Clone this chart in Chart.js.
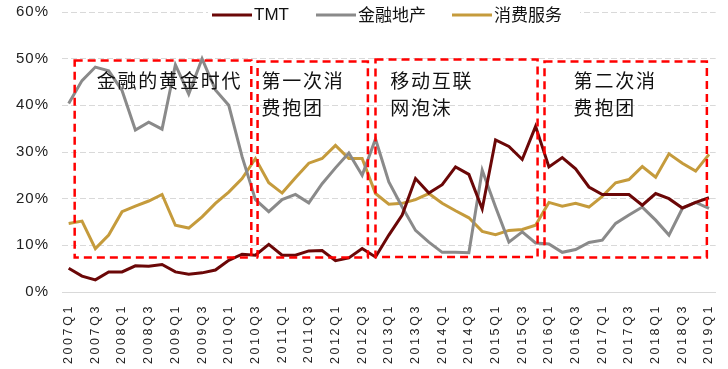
<!DOCTYPE html>
<html>
<head>
<meta charset="utf-8">
<script src="https://cdn.jsdelivr.net/npm/chart.js@4/dist/chart.umd.min.js"></script>
<style>
  html, body { margin: 0; padding: 0; background: #fff; }
  #wrap { width: 728px; height: 369px; }
</style>
</head>
<body>
<div id="wrap"><canvas id="lineChart"></canvas></div>
<script>
// quarters 2007Q1 .. 2019Q1
const quarters = [];
for (let y = 2007; y <= 2019; y++) {
    for (let q = 1; q <= 4; q++) {
        if (y === 2019 && q > 1) break;
        quarters.push(y + 'Q' + q);
    }
}

const tmt = [5.1, 3.4, 2.6, 4.3, 4.3, 5.6, 5.5, 5.9, 4.3, 3.8, 4.1, 4.7, 6.8, 8.1, 7.9, 10.2, 7.9, 7.9, 8.8, 8.9,
    6.7, 7.3, 9.3, 7.5, 12.2, 16.5, 24.3, 21.2, 23.0, 26.8, 25.2, 17.8, 32.6, 31.2, 28.4, 35.5, 26.8, 28.8, 26.4, 22.5,
    20.9, 20.9, 20.9, 18.6, 21.1, 20.0, 18.0, 19.2, 20.2];

const finance = [40.4, 45.3, 48.2, 47.4, 43.2, 34.7, 36.4, 34.9, 48.7, 42.4, 50.0, 43.3, 40.0, 29.0, 19.8, 17.2, 19.8, 20.9, 19.1, 23.2,
    26.6, 29.8, 25.0, 32.8, 23.6, 18.2, 13.2, 10.7, 8.5, 8.5, 8.4, 26.1, 18.2, 10.7, 12.9, 10.5, 10.3, 8.5, 9.1, 10.6,
    11.1, 14.7, 16.5, 18.2, 15.4, 12.2, 17.9, 19.2, 17.9];

const consumer = [14.7, 15.2, 9.3, 12.2, 17.2, 18.4, 19.5, 20.9, 14.3, 13.7, 16.1, 19.0, 21.4, 24.3, 28.6, 23.4, 21.2, 24.5, 27.6, 28.6,
    31.4, 28.6, 28.6, 21.1, 18.8, 19.0, 19.8, 21.1, 19.0, 17.4, 15.9, 13.0, 12.3, 13.2, 13.4, 14.3, 19.2, 18.4, 19.0, 18.2,
    20.5, 23.4, 24.1, 26.9, 24.6, 29.6, 27.6, 25.9, 29.5];

const yTicks = [0, 10, 20, 30, 40, 50, 60];

// period boxes: x in category index, y in %
const periods = [
    { x0: 0.45, x1: 13.69, y0: 7.4, y1: 49.6, lines: ['金融的黄金时代'], tx: 2.1 },
    { x0: 14.16, x1: 22.43, y0: 7.4, y1: 49.4, lines: ['第一次消', '费抱团'], tx: 14.45 },
    { x0: 23.0, x1: 35.15, y0: 7.5, y1: 49.8, lines: ['移动互联', '网泡沫'], tx: 24.1 },
    { x0: 35.67, x1: 47.84, y0: 7.4, y1: 49.4, lines: ['第二次消', '费抱团'], tx: 37.85 }
];

const seriesColors = ['#6b0707', '#8a8a8a', '#c59b3c'];
const seriesNames = ['TMT', '金融地产', '消费服务'];

const latin = '"Liberation Sans", Arial, sans-serif';
const cjk = '"Noto Sans CJK SC", "Liberation Sans", sans-serif';

// letter spacing: y labels before datasets, x labels (z:1) after
const spacing = {
    id: 'spacing',
    beforeDraw(chart) { chart.ctx.letterSpacing = '1px'; },
    afterDraw(chart) { chart.ctx.letterSpacing = '0px'; }
};

// draw boxes + notes
const periodBoxes = {
    id: 'periodBoxes',
    afterDatasetsDraw(chart) {
        const { ctx, scales: { x, y } } = chart;
        ctx.save();
        ctx.letterSpacing = '0px';
        ctx.strokeStyle = '#ff0000';
        ctx.lineWidth = 2.5;
        ctx.setLineDash([8, 5]);
        periods.forEach(p => {
            const l = x.getPixelForValue(p.x0), r = x.getPixelForValue(p.x1);
            const t = y.getPixelForValue(p.y1), b = y.getPixelForValue(p.y0);
            ctx.strokeRect(l, t, r - l, b - t);
        });
        ctx.setLineDash([]);
        ctx.fillStyle = '#111';
        ctx.font = '19px ' + cjk;
        ctx.letterSpacing = '1.8px';
        ctx.textBaseline = 'middle';
        ctx.textAlign = 'left';
        periods.forEach(p => {
            const tx = x.getPixelForValue(p.tx);
            p.lines.forEach((s, i) => {
                ctx.fillText(s, tx, 81 + i * 27);
            });
        });
        ctx.restore();
        ctx.letterSpacing = '2.6px';
    }
};

// legend drawn inside the top of the plot
const topLegend = {
    id: 'topLegend',
    afterDraw(chart) {
        const { ctx } = chart;
        const items = [
            { x: 212, font: '17px ' + latin },
            { x: 316, font: '17px ' + cjk },
            { x: 452, font: '17px ' + cjk }
        ];
        ctx.save();
        ctx.letterSpacing = '0px';
        ctx.fillStyle = '#fff';
        ctx.fillRect(208, 4, 372, 22);
        ctx.textBaseline = 'middle';
        items.forEach((it, i) => {
            ctx.strokeStyle = seriesColors[i];
            ctx.lineWidth = 3;
            ctx.beginPath();
            ctx.moveTo(it.x, 15);
            ctx.lineTo(it.x + 40, 15);
            ctx.stroke();
            ctx.fillStyle = '#111';
            ctx.font = it.font;
            ctx.fillText(seriesNames[i], it.x + 42, 15);
        });
        ctx.restore();
    }
};

const ctx = document.getElementById('lineChart');

new Chart(ctx, {
    type: 'line',
    data: {
        labels: quarters,
        datasets: [tmt, finance, consumer].map((d, i) => ({
            label: seriesNames[i],
            data: d,
            borderColor: seriesColors[i],
            backgroundColor: seriesColors[i],
            borderWidth: 3,
            pointRadius: 0,
            tension: 0,
            fill: false
        }))
    },
    options: {
        responsive: true,
        maintainAspectRatio: false,
        animation: false,
        layout: { padding: { top: 12, right: 0, left: 0, bottom: 0 } },
        plugins: {
            legend: { display: false },
            tooltip: { enabled: false }
        },
        scales: {
            x: {
                offset: true,
                grid: { display: false },
                border: { display: true, color: '#d9d9d9', width: 1 },
                ticks: {
                    z: 1,
                    autoSkip: false,
                    maxRotation: 90,
                    minRotation: 90,
                    padding: 4,
                    color: '#222',
                    font: { family: latin, size: 12.5 },
                    callback: function (v, i) { return i % 2 === 0 ? quarters[i] : ''; }
                },
                afterFit(scale) { scale.height = 77; }
            },
            y: {
                min: 0,
                max: 60,
                afterBuildTicks(scale) { scale.ticks = yTicks.map(v => ({ value: v })); },
                grid: { color: '#d9d9d9', lineWidth: 1, drawTicks: false },
                border: { display: false, dash: [6, 3] },
                ticks: {
                    padding: 13,
                    color: '#222',
                    font: { family: latin, size: 15 },
                    callback: v => v + '%'
                },
                afterFit(scale) {
                    scale.width = 62;
                    scale.paddingTop = 0;
                    scale.paddingBottom = 0;
                }
            }
        }
    },
    plugins: [spacing, periodBoxes, topLegend]
});
</script>
</body>
</html>
